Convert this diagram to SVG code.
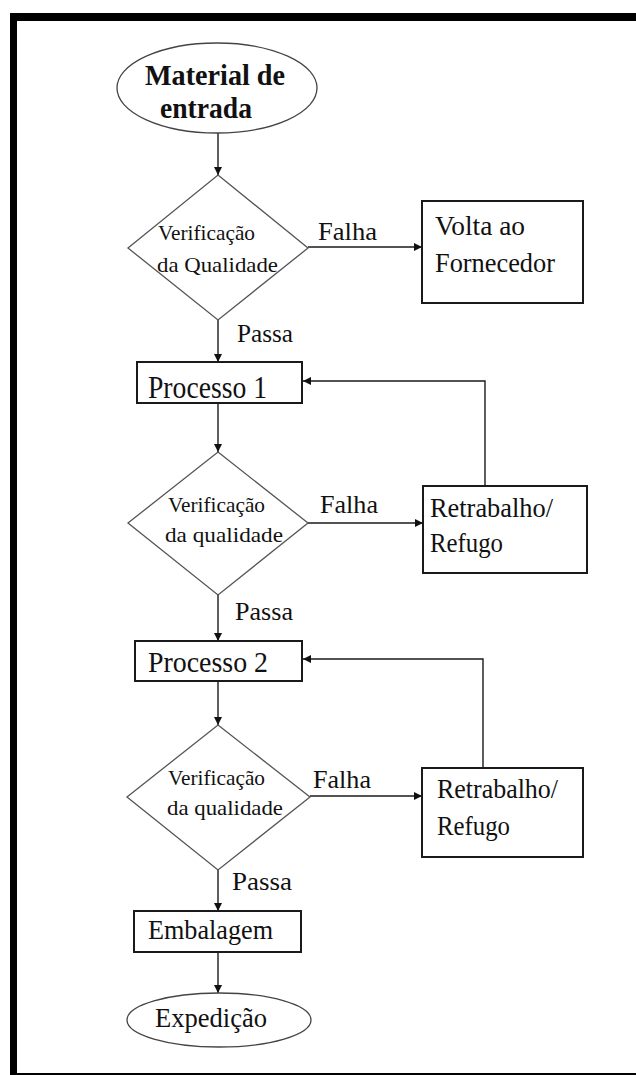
<svg xmlns="http://www.w3.org/2000/svg" width="636" height="1075" viewBox="0 0 636 1075">
  <style>
    .frame { fill: #000; }
    .box { fill: #fff; stroke: #1a1a1a; stroke-width: 2; }
    .dia { fill: #fff; stroke: #555; stroke-width: 1.3; }
    .oval { fill: #fff; stroke: #444; stroke-width: 1.3; }
    .wire { fill: none; stroke: #1a1a1a; stroke-width: 1.4; }
    text { font-family: "Liberation Serif", "Times New Roman", serif; fill: #111; }
    .b { font-weight: bold; }
  </style>
  <defs>
    <marker id="arrow" viewBox="0 0 10 10" refX="10" refY="5" markerWidth="8" markerHeight="8" markerUnits="userSpaceOnUse" orient="auto">
      <path d="M0,0 L10,5 L0,10 Z" fill="#111"/>
    </marker>
  </defs>

  <rect width="636" height="1075" fill="#fff"/>

  <!-- page frame -->
  <g id="frame">
    <rect class="frame" x="10" y="13" width="626" height="8"/>
    <rect class="frame" x="10" y="13" width="7" height="1062"/>
    <rect class="frame" x="10" y="1073" width="626" height="2"/>
  </g>

  <!-- connectors -->
  <g id="connectors">
    <path class="wire" d="M218,133 V175" marker-end="url(#arrow)"/>
    <path class="wire" d="M218,320 V362" marker-end="url(#arrow)"/>
    <path class="wire" d="M218,403 V452" marker-end="url(#arrow)"/>
    <path class="wire" d="M218,595 V641" marker-end="url(#arrow)"/>
    <path class="wire" d="M218,681 V725" marker-end="url(#arrow)"/>
    <path class="wire" d="M218,870 V911" marker-end="url(#arrow)"/>
    <path class="wire" d="M218,952 V993" marker-end="url(#arrow)"/>

    <path class="wire" d="M308,247 H422" marker-end="url(#arrow)"/>
    <path class="wire" d="M308,523 H423" marker-end="url(#arrow)"/>
    <path class="wire" d="M310,796 H422" marker-end="url(#arrow)"/>

    <path class="wire" d="M485,486 V381 H303" marker-end="url(#arrow)"/>
    <path class="wire" d="M483,768 V659 H303" marker-end="url(#arrow)"/>

    <text x="318" y="240" font-size="25" textLength="59" lengthAdjust="spacingAndGlyphs">Falha</text>
    <text x="237" y="342" font-size="26" textLength="56" lengthAdjust="spacingAndGlyphs">Passa</text>
    <text x="320" y="513" font-size="25" textLength="58" lengthAdjust="spacingAndGlyphs">Falha</text>
    <text x="235" y="620" font-size="26" textLength="58" lengthAdjust="spacingAndGlyphs">Passa</text>
    <text x="313" y="788" font-size="25" textLength="58" lengthAdjust="spacingAndGlyphs">Falha</text>
    <text x="232" y="890" font-size="26" textLength="60" lengthAdjust="spacingAndGlyphs">Passa</text>
  </g>

  <g id="material-entrada">
    <ellipse class="oval" cx="217" cy="88" rx="100" ry="45"/>
    <text class="b" x="145" y="85" font-size="29" textLength="140" lengthAdjust="spacingAndGlyphs">Material de</text>
    <text class="b" x="160" y="118" font-size="29" textLength="92" lengthAdjust="spacingAndGlyphs">entrada</text>
  </g>

  <g id="verificacao-1">
    <polygon class="dia" points="218,175 308,248 218,320 128,248"/>
    <text x="158" y="240" font-size="21" textLength="97" lengthAdjust="spacingAndGlyphs">Verificação</text>
    <text x="157" y="272" font-size="21" textLength="121" lengthAdjust="spacingAndGlyphs">da Qualidade</text>
  </g>

  <g id="volta-fornecedor">
    <rect class="box" x="422" y="201" width="161" height="102"/>
    <text x="435" y="235" font-size="28" textLength="90" lengthAdjust="spacingAndGlyphs">Volta ao</text>
    <text x="435" y="272" font-size="28" textLength="120" lengthAdjust="spacingAndGlyphs">Fornecedor</text>
  </g>

  <g id="processo-1">
    <rect class="box" x="137" y="362" width="165" height="41"/>
    <text x="148" y="398" font-size="31" textLength="119" lengthAdjust="spacingAndGlyphs">Processo 1</text>
  </g>

  <g id="verificacao-2">
    <polygon class="dia" points="218,452 308,523 218,595 128,523"/>
    <text x="168" y="512" font-size="21" textLength="97" lengthAdjust="spacingAndGlyphs">Verificação</text>
    <text x="165" y="542" font-size="21" textLength="118" lengthAdjust="spacingAndGlyphs">da qualidade</text>
  </g>

  <g id="retrabalho-1">
    <rect class="box" x="423" y="486" width="164" height="87"/>
    <text x="430" y="517" font-size="28" textLength="123" lengthAdjust="spacingAndGlyphs">Retrabalho/</text>
    <text x="430" y="552" font-size="28" textLength="73" lengthAdjust="spacingAndGlyphs">Refugo</text>
  </g>

  <g id="processo-2">
    <rect class="box" x="135" y="641" width="167" height="40"/>
    <text x="148" y="672" font-size="30" textLength="120" lengthAdjust="spacingAndGlyphs">Processo 2</text>
  </g>

  <g id="verificacao-3">
    <polygon class="dia" points="218,725 310,797 218,870 127,797"/>
    <text x="168" y="785" font-size="21" textLength="97" lengthAdjust="spacingAndGlyphs">Verificação</text>
    <text x="167" y="815" font-size="21" textLength="116" lengthAdjust="spacingAndGlyphs">da qualidade</text>
  </g>

  <g id="retrabalho-2">
    <rect class="box" x="422" y="768" width="161" height="89"/>
    <text x="437" y="798" font-size="28" textLength="121" lengthAdjust="spacingAndGlyphs">Retrabalho/</text>
    <text x="437" y="835" font-size="28" textLength="73" lengthAdjust="spacingAndGlyphs">Refugo</text>
  </g>

  <g id="embalagem">
    <rect class="box" x="134" y="911" width="167" height="41"/>
    <text x="148" y="939" font-size="28" textLength="125" lengthAdjust="spacingAndGlyphs">Embalagem</text>
  </g>

  <g id="expedicao">
    <ellipse class="oval" cx="219" cy="1020" rx="92" ry="27"/>
    <text x="155" y="1027" font-size="28" textLength="112" lengthAdjust="spacingAndGlyphs">Expedição</text>
  </g>
</svg>
